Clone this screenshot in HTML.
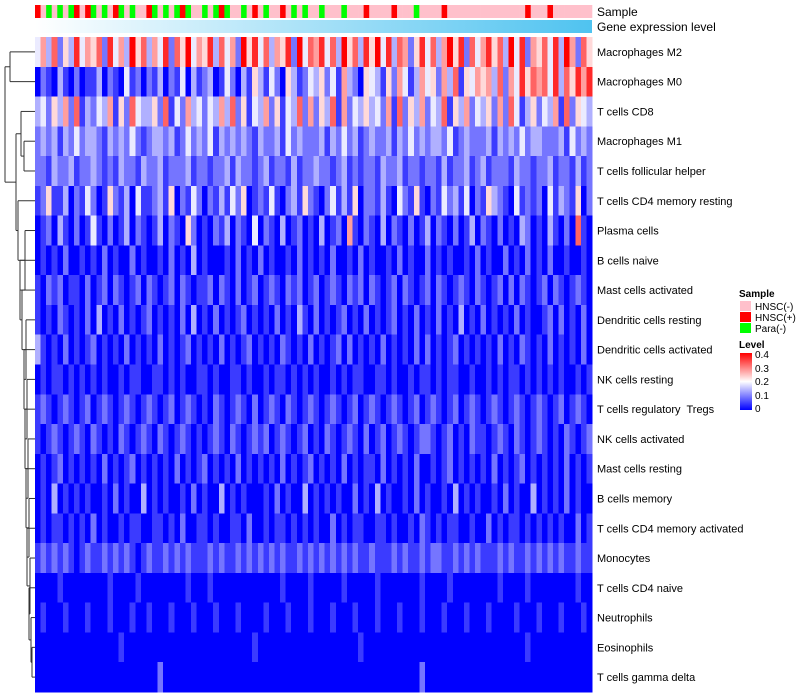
<!DOCTYPE html>
<html><head><meta charset="utf-8"><style>
body{margin:0;background:#fff;}
svg{display:block;font-family:"Liberation Sans",sans-serif;}
#labels text{white-space:pre;}
</style></head><body>
<svg id="chart" width="800" height="700">
<g id="dendro" stroke="#333" stroke-width="1" fill="none"></g>
<g id="annot"></g>
<g id="cells" shape-rendering="crispEdges"></g>
<g id="labels" font-size="11" fill="#000"></g>
<g font-size="10">
<text x="739" y="297" font-weight="bold">Sample</text>
<rect x="740" y="301" width="11" height="10" fill="#FFC0CB"/>
<text x="755" y="310">HNSC(-)</text>
<rect x="740" y="312" width="11" height="10" fill="#FF0000"/>
<text x="755" y="321">HNSC(+)</text>
<rect x="740" y="323" width="11" height="10" fill="#00FF00"/>
<text x="755" y="332">Para(-)</text>
<text x="739" y="348" font-weight="bold">Level</text>
<defs><linearGradient id="lg" x1="0" y1="1" x2="0" y2="0"><stop offset="0" stop-color="#0000FF"/><stop offset="0.5" stop-color="#FFFFFF"/><stop offset="1" stop-color="#FF0000"/></linearGradient>
<linearGradient id="gg" x1="0" x2="1"><stop offset="0" stop-color="#FFFFFF"/><stop offset="1" stop-color="#4FC3F0"/></linearGradient></defs>
<rect x="740" y="353" width="12" height="57" fill="url(#lg)"/>
<text x="755" y="358">0.4</text>
<text x="755" y="372">0.3</text>
<text x="755" y="385">0.2</text>
<text x="755" y="399">0.1</text>
<text x="755" y="412">0</text>
</g>
<rect x="35" y="20" width="557" height="13" fill="url(#gg)"/>
<text x="597" y="16" font-size="12">Sample</text>
<text x="597" y="31" font-size="12">Gene expression level</text>
</svg>
<script>
const rowNames=["Macrophages M2","Macrophages M0","T cells CD8","Macrophages M1","T cells follicular helper","T cells CD4 memory resting","Plasma cells","B cells naive","Mast cells activated","Dendritic cells resting","Dendritic cells activated","NK cells resting","T cells regulatory  Tregs","NK cells activated","Mast cells resting","B cells memory","T cells CD4 memory activated","Monocytes","T cells CD4 naive","Neutrophils","Eosinophils","T cells gamma delta"];
const sampleGroups="rpgpgpgrprgpgprgpgpprgpgpgrgppgpgrgppgprpgpprpgpgppgpppgppprpppprpppgpppprpppppppppppppprppprppppppp";
const levelRows=[
"4637253846572846395736482759465837462958473658294768473957385948376258473695827468573948265748396275",
"0210310201130210412021302140312301420315314205312435241632054315264136452637154656372648576748375868",
"3425362713243615274335271426342436372514362514372625371624353426172536243715362435262741352436172543",
"2323132423321323242123323124232413232321322314232223132423123223132423233241232223132324233222314232",
"2213223122321213221322312223122122313221231221312232212312122132231221221312231231222132212231221312",
"1251130214201521304112315021420213142501214102315210241315022131042151021423140215321041212041321502",
"0120310201410201302101302105201021302104021030120103012061021030210201302102013021020103201031020710",
"0101020010102010020100102010301000102010201001020101020010201001020100201010010201002010201020010010",
"1021201102012021012021012021011202102012012102120120121021202101202101202101210210120202101202101210",
"1010210102030102010120101020301020101201010201031020101201020101201020102010301020101020100120201020",
"3101020101201010201010201012010102010120101021010201012020101020101020201012010101020102101020101020",
"0101101010101001011001101010011010011010010110101010010101100110100101101011001001010110101010100101",
"1210121012012101210121012012101021012102012102101210121012012101210120121012012101210121012101201210",
"1012101210210102101210210121010121021012120121012010210121020120121012210120102110121021012101021012",
"0101201010102010120101010201012010102010101020101201010201011020101020010120101010201012010101020101",
"0103010101001020100301010010201003010100010201003010101002010301001020100103010100102010030101020100",
"0101101010201001011001101020011010011020010110101010020101100110100102101011001002010110101010100201",
"1212121012112121210121121212111212112121212121121212121212112111212112122112121211121211212121211211",
"0000100000000100001000000001000100000000000010000100000100000100000001000010000000010000100000000100",
"0100010001000100010010001000100010001000010001000100010001000100010001000100010001000010001000100010",
"0000000000000001000000000000000000000001000000000000000000100000000000000000000000000000100000000000",
"0000000000000000000000200000000000000000000000000000000000000000000002000000000000000000000000000000"];
const levelStep=0.046;
const dendroX=[10,5,21,24,16,18,25,20,22,26,24,27,25,28,26,29,27,30,29,31,32];

const NS="http://www.w3.org/2000/svg";
const X0=35,X1=592,Y0=37,Y1=692;
const nRows=levelRows.length,nCols=levelRows[0].length;
const cw=(X1-X0)/nCols,rh=(Y1-Y0)/nRows;
function xScale(i){return X0+i*cw;}
function yScale(r){return Y0+r*rh;}
function color(v){
  v=Math.max(0,Math.min(0.4,v));
  let r,g,b;
  if(v<=0.2){const t=v/0.2;r=Math.round(255*t);g=r;b=255;}
  else{const t=(v-0.2)/0.2;r=255;g=Math.round(255*(1-t));b=g;}
  return `rgb(${r},${g},${b})`;
}
const cells=document.getElementById('cells');
levelRows.forEach((row,r)=>{
  for(let c=0;c<nCols;c++){
    const v=parseInt(row[c]||'0')*levelStep;
    const el=document.createElementNS(NS,'rect');
    el.setAttribute('x',xScale(c));el.setAttribute('y',yScale(r));
    el.setAttribute('width',cw+0.4);el.setAttribute('height',rh+0.4);
    el.setAttribute('fill',color(v));
    
    
    cells.appendChild(el);
  }
});
const annot=document.getElementById('annot');
const sc={p:'#FFC0CB',r:'#FF0000',g:'#00FF00'};
const scw=(X1-X0)/sampleGroups.length;
for(let c=0;c<sampleGroups.length;c++){
  const el=document.createElementNS(NS,'rect');
  el.setAttribute('x',X0+c*scw);el.setAttribute('y',5);
  el.setAttribute('width',scw+0.3);el.setAttribute('height',13);
  el.setAttribute('fill',sc[sampleGroups[c]]);
  
  
  annot.appendChild(el);
}
const labels=document.getElementById('labels');
rowNames.forEach((n,r)=>{
  const t=document.createElementNS(NS,'text');
  t.setAttribute('x',597);t.setAttribute('y',yScale(r)+rh/2+4);
  t.textContent=n;
  
  
  labels.appendChild(t);
});
const dg=document.getElementById('dendro');
function line(x1,y1,x2,y2){const l=document.createElementNS(NS,'path');l.setAttribute('d',`M${x1},${y1}L${x2},${y2}`);


dg.appendChild(l);}
function join(a,b,x){line(a.x,a.y,x,a.y);line(b.x,b.y,x,b.y);line(x,a.y,x,b.y);return {x:x,y:(a.y+b.y)/2};}
const leaf=r=>({x:X0,y:yScale(r)+rh/2});
const c01=join(leaf(0),leaf(1),dendroX[0]);
const c34=join(leaf(3),leaf(4),dendroX[3]);
const c234=join(leaf(2),c34,dendroX[2]);
let node=join(leaf(20),leaf(21),dendroX[20]);
for(let r=19;r>=5;r--){node=join(leaf(r),node,dendroX[r]);}
const lower=join(c234,node,dendroX[4]);
join(c01,lower,dendroX[1]);
</script>
</body></html>
